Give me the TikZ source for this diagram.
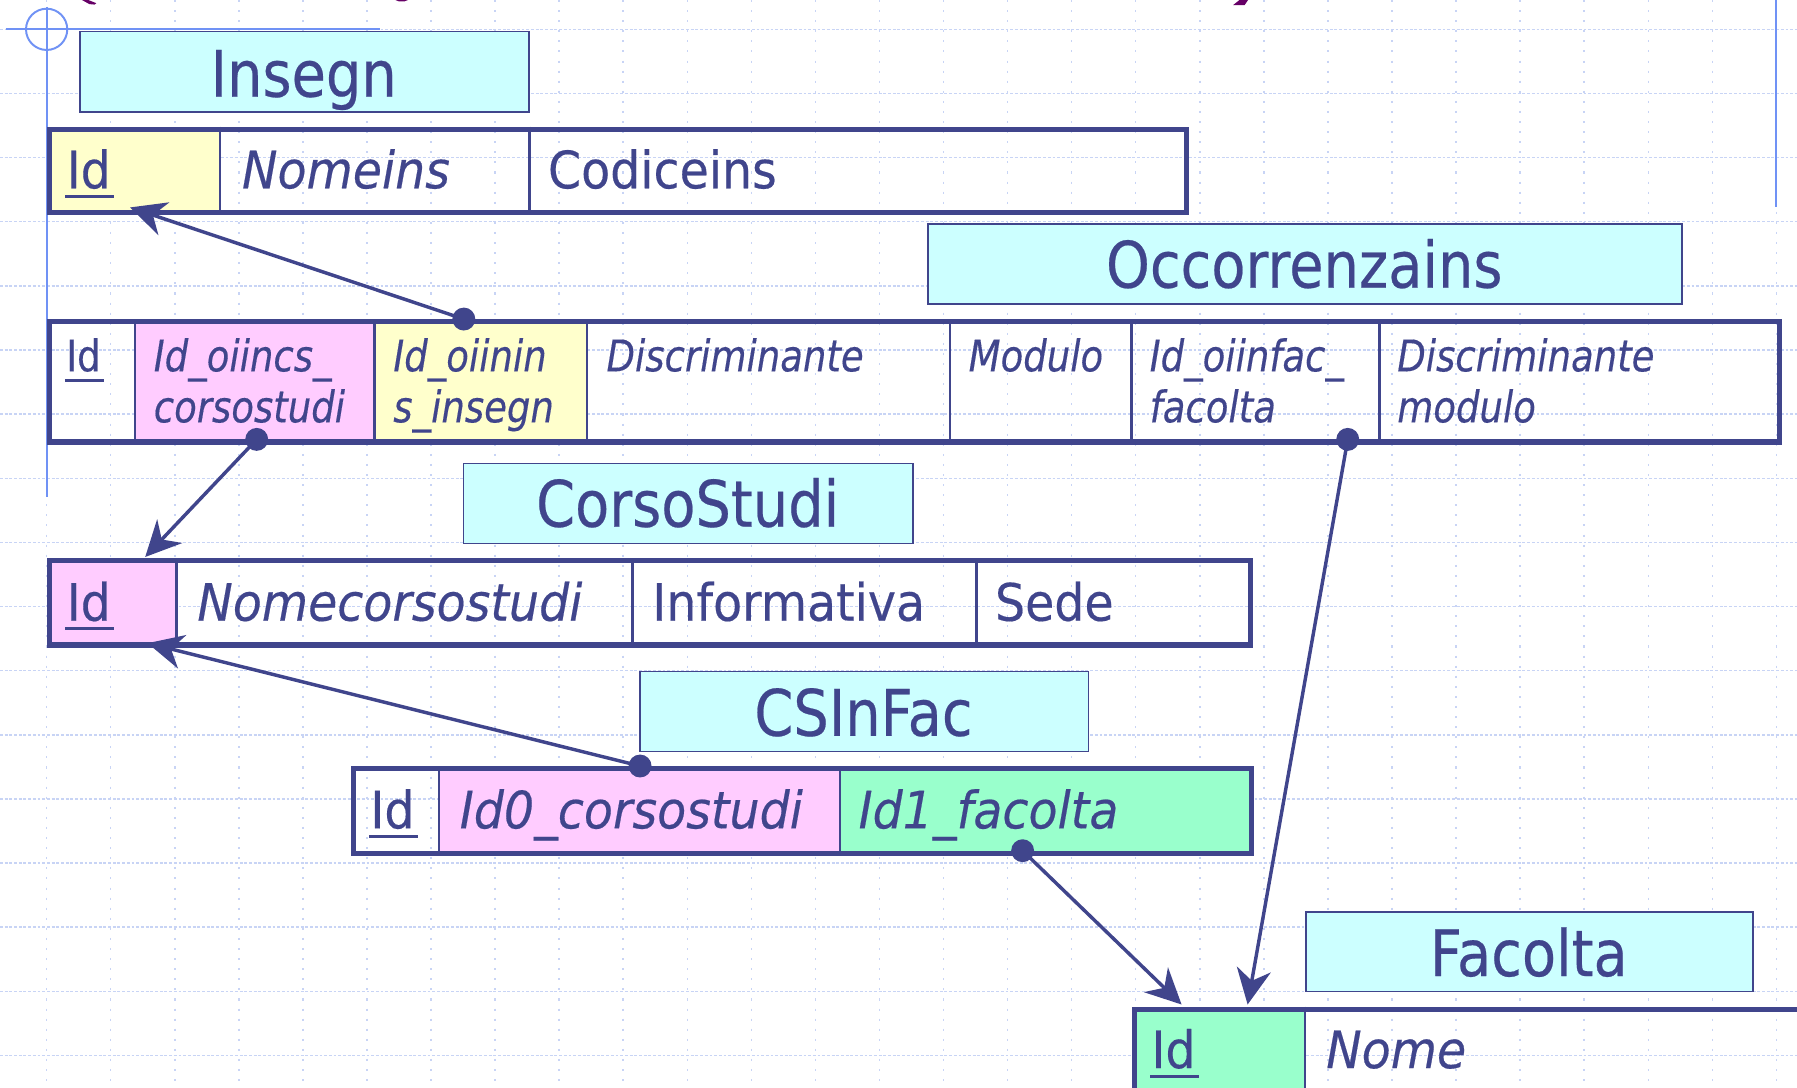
\documentclass[tikz,border=0pt]{standalone}
\usepackage{fontspec}
\setmainfont{DejaVu Sans}[FakeStretch=0.87,FakeBold=0.35]
\newfontfamily\bigfam{DejaVu Sans}[FakeStretch=0.92,FakeBold=0.35]
\newfontfamily\smallfam{DejaVu Sans}[FakeStretch=0.85,FakeBold=0.3]
\usetikzlibrary{arrows.meta}
\definecolor{ink}{RGB}{64,69,140}
\definecolor{cyanfill}{RGB}{204,255,255}
\definecolor{yelfill}{RGB}{255,255,204}
\definecolor{pinkfill}{RGB}{255,204,255}
\definecolor{greenfill}{RGB}{153,255,204}
\definecolor{guide}{RGB}{112,146,245}
\definecolor{gridc}{RGB}{200,212,245}
\definecolor{titlepurple}{RGB}{102,0,102}
\tikzset{
  titlebox/.style={draw=ink, line width=1.5pt, fill=cyanfill, inner sep=0pt, anchor=north west},
  cellbox/.style={draw=none, inner sep=0pt, anchor=north west},
  tableframe/.style={draw=ink, line width=4.5pt, inner sep=0pt, anchor=north west},
  divider/.style={draw=ink, line width=2.2pt},
  titletext/.style={text=ink, inner sep=0pt, anchor=base, font=\fontsize{56}{67}\selectfont},
  bigtext/.style={text=ink, inner sep=0pt, anchor=base west, font=\bigfam\fontsize{45}{54}\selectfont},
  bigit/.style={bigtext, font=\bigfam\fontsize{45}{54}\selectfont\itshape},
  smalltext/.style={text=ink, inner sep=0pt, anchor=base west, font=\smallfam\fontsize{38}{45}\selectfont},
  smallit/.style={smalltext, font=\smallfam\fontsize{38}{45}\selectfont\itshape},
  keyline/.style={draw=ink, line width=2.5pt},
  fkdot/.style={circle, fill=ink, inner sep=0pt, minimum size=20pt},
  fkarrow/.style={draw=ink, line width=3pt, -{Stealth[length=31pt,width=30pt,inset=10pt]}},
  gridh/.style={draw=gridc, line width=1.3pt, dash pattern=on 2.5pt off 1.6pt},
  gridv/.style={draw=gridc, line width=1.3pt, dash pattern=on 1.8pt off 7pt},
  guideline/.style={draw=guide, line width=1.7pt}
}
\begin{document}
\begin{tikzpicture}[x=1pt,y=-1pt]
\useasboundingbox (0,0) rectangle (1568,949);
\clip (0,0) rectangle (1568,949);
\fill[white] (0,0) rectangle (1568,949);
% grid
\foreach \k in {0,...,16} \draw[gridh] (0,{25.6+55.96*\k}) -- (1568,{25.6+55.96*\k});
\foreach \k in {0,...,27} \draw[gridv] ({40.7+55.9*\k},0) -- ({40.7+55.9*\k},949);
% guides
\draw[guideline] (40.7,25.6) circle (18pt);
\draw[guideline] (5,25.6) -- (332,25.6);
\draw[guideline] (40.7,6) -- (40.7,433.4);
\draw[guideline] (1549.5,0) -- (1549.5,180.6);
% cut-off title remnants
\fill[titlepurple] (71.5,0) -- (77,0) -- (84,2.8) -- (82.5,4) -- (78,3.6) -- cycle;
\fill[titlepurple] (345,0) -- (356,0) -- (353,1.2) -- (348,1.2) -- cycle;
\fill[titlepurple] (1081.5,0) -- (1089,0) -- (1086,4.4) -- (1076,4.4) -- cycle;

% ---------- Insegn
\node[titlebox, minimum width=391.7pt, minimum height=70.1pt] (insegnTitleBox) at (69.1,26.8) {};
\node[titletext] (insegnTitle) at (265,84.4) {Insegn};
\node[cellbox, fill=yelfill, minimum width=151.3pt, minimum height=72.5pt] (insegnIdCell) at (40.7,110.5) {};
\draw[divider] (192,110.5) -- (192,183);
\draw[divider] (462,110.5) -- (462,183);
\node[tableframe, minimum width=992.3pt, minimum height=72.5pt] (insegnTable) at (40.7,110.5) {};
\node[bigtext] (insegnId) at (58,164.3) {Id};
\draw[keyline] ([shift={(-1pt,-7pt)}]insegnId.base west) -- ([shift={(3pt,-7pt)}]insegnId.base east);
\node[bigit] (insegnNome) at (211,164.3) {Nomeins};
\node[bigtext] (insegnCod) at (478,164.3) {Codiceins};

% ---------- Occorrenzains
\node[titlebox, minimum width=658pt, minimum height=70pt] (occTitleBox) at (809,194.5) {};
\node[titletext] (occTitle) at (1138,251) {Occorrenzains};
\node[cellbox, fill=pinkfill, minimum width=209pt, minimum height=105pt] (occCsCell) at (117.7,278.4) {};
\node[cellbox, fill=yelfill, minimum width=185.3pt, minimum height=105pt] (occInsCell) at (326.7,278.4) {};
\foreach \xx in {117.7,326.7,512,829,987.5,1203.6} \draw[divider] (\xx,278.4) -- (\xx,383.4);
\node[tableframe, minimum width=1509.9pt, minimum height=105pt] (occTable) at (40.7,278.4) {};
\node[smalltext] (occId) at (57.6,324) {Id};
\draw[keyline] ([shift={(-1pt,-8pt)}]occId.base west) -- ([shift={(3pt,-8pt)}]occId.base east);
\node[smallit] (occCsA) at (134,324) {Id\_oiincs\_};
\node[smallit] (occCsB) at (134,368.5) {corsostudi};
\node[smallit] (occInsA) at (343,324) {Id\_oiinin};
\node[smallit] (occInsB) at (343,368.5) {s\_insegn};
\node[smallit] (occDisc) at (529,324) {Discriminante};
\node[smallit] (occMod) at (845,324) {Modulo};
\node[smallit] (occFacA) at (1003,324) {Id\_oiinfac\_};
\node[smallit] (occFacB) at (1003,368.5) {facolta};
\node[smallit] (occDmA) at (1219,324) {Discriminante};
\node[smallit] (occDmB) at (1219,368.5) {modulo};

% ---------- CorsoStudi
\node[titlebox, minimum width=392.3pt, minimum height=69.8pt] (csTitleBox) at (403.7,403.7) {};
\node[titletext] (csTitle) at (600,459.6) {CorsoStudi};
\node[cellbox, fill=pinkfill, minimum width=113.3pt, minimum height=73.5pt] (csIdCell) at (40.7,487) {};
\foreach \xx in {154,552,852} \draw[divider] (\xx,487) -- (\xx,560.5);
\node[tableframe, minimum width=1048.3pt, minimum height=73.5pt] (csTable) at (40.7,487) {};
\node[bigtext] (csId) at (58,541.6) {Id};
\draw[keyline] ([shift={(-1pt,-7pt)}]csId.base west) -- ([shift={(3pt,-7pt)}]csId.base east);
\node[bigit] (csNome) at (172,541.6) {Nomecorsostudi};
\node[bigtext] (csInfo) at (569,541.6) {Informativa};
\node[bigtext] (csSede) at (868,541.6) {Sede};

% ---------- CSInFac
\node[titlebox, minimum width=391.2pt, minimum height=69.8pt] (cfTitleBox) at (557.8,585.2) {};
\node[titletext] (cfTitle) at (753.4,642) {CSInFac};
\node[cellbox, fill=pinkfill, minimum width=350pt, minimum height=73.9pt] (cfCsCell) at (383,668.4) {};
\node[cellbox, fill=greenfill, minimum width=357pt, minimum height=73.9pt] (cfFacCell) at (733,668.4) {};
\foreach \xx in {383,733} \draw[divider] (\xx,668.4) -- (\xx,742.3);
\node[tableframe, minimum width=784pt, minimum height=73.9pt] (cfTable) at (306,668.4) {};
\node[bigtext] (cfId) at (323,722.8) {Id};
\draw[keyline] ([shift={(-1pt,-7pt)}]cfId.base west) -- ([shift={(3pt,-7pt)}]cfId.base east);
\node[bigit] (cfCs) at (401,722.8) {Id0\_corsostudi};
\node[bigit] (cfFac) at (749,722.8) {Id1\_facolta};

% ---------- Facolta
\node[titlebox, minimum width=390.3pt, minimum height=69.5pt] (facTitleBox) at (1138.7,795) {};
\node[titletext] (facTitle) at (1334,851.7) {Facolta};
\node[cellbox, fill=greenfill, minimum width=150.7pt, minimum height=200pt] (facIdCell) at (988,878.4) {};
\draw[divider] (1138.7,878.4) -- (1138.7,1080);
\node[tableframe, minimum width=700pt, minimum height=200pt] (facTable) at (988,878.4) {};
\node[bigtext] (facId) at (1004.5,932) {Id};
\draw[keyline] ([shift={(-1pt,-7pt)}]facId.base west) -- ([shift={(3pt,-7pt)}]facId.base east);
\node[bigit] (facNome) at (1157,932) {Nome};

% ---------- foreign keys
\node[fkdot] (d1) at (404.7,278.4) {};
\node[fkdot] (d2) at (224,383.4) {};
\node[fkdot] (d3) at (1176,383.4) {};
\node[fkdot] (d4) at (558.5,668.4) {};
\node[fkdot] (d5) at (892.3,742.3) {};
\coordinate (t1) at (113.5,181);
\coordinate (t2) at (126.7,486);
\coordinate (t3) at (1088.6,876.5);
\coordinate (t4) at (128.8,561.2);
\coordinate (t5) at (1031,876.5);
\draw[fkarrow] (d1.center) -- (t1);
\draw[fkarrow] (d2.center) -- (t2);
\draw[fkarrow] (d3.center) -- (t3);
\draw[fkarrow] (d4.center) -- (t4);
\draw[fkarrow] (d5.center) -- (t5);
\end{tikzpicture}
\end{document}
